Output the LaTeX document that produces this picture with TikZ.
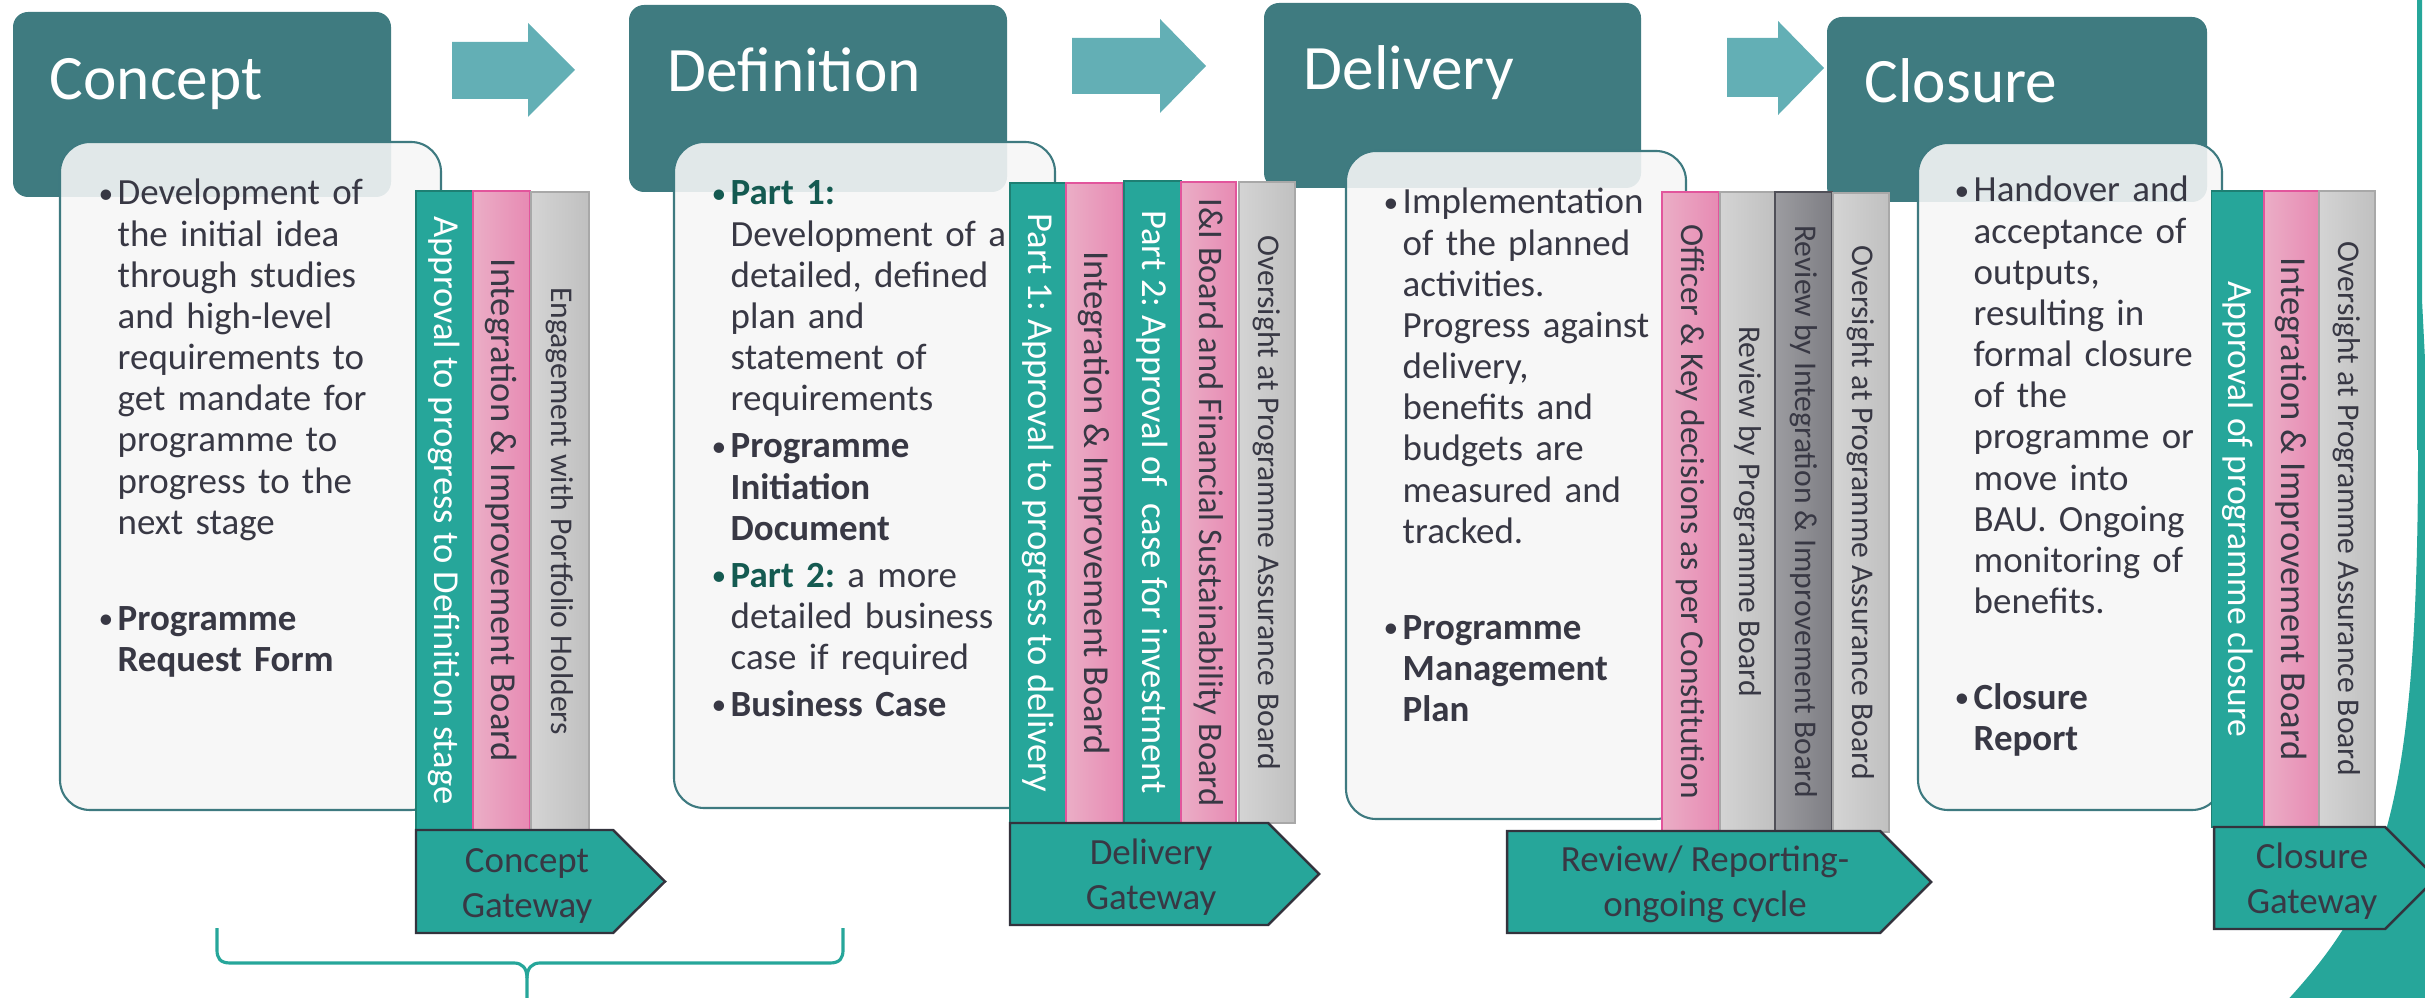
\documentclass[tikz,border=0pt]{standalone}
\usepackage{fontspec}
\setmainfont{Carlito}

\definecolor{headteal}{HTML}{3F7B80}
\definecolor{arrowteal}{HTML}{63AFB5}
\definecolor{boxgrey}{HTML}{F6F6F6}
\definecolor{boxline}{HTML}{3E7A80}
\definecolor{gwteal}{HTML}{26A69A}
\definecolor{gwtealline}{HTML}{1E7F73}
\definecolor{pinktop}{HTML}{EBAEC6}
\definecolor{pinkbot}{HTML}{E78AB3}
\definecolor{pinkline}{HTML}{E2559C}
\definecolor{greytop}{HTML}{D4D4D4}
\definecolor{greybot}{HTML}{C0C0C0}
\definecolor{greyline}{HTML}{A8A8A8}
\definecolor{darktop}{HTML}{9C9CA0}
\definecolor{darkbot}{HTML}{7E7E84}
\definecolor{darkline}{HTML}{505058}
\definecolor{textdark}{HTML}{383844}
\definecolor{parttext}{HTML}{145A51}
\definecolor{gateline}{HTML}{33333D}

\newcommand\dotmark{\raisebox{0.05em}{\scalebox{0.8}{\textbullet}}}
\newcommand\bitem[2][textdark]{\hangindent=0.19cm\hangafter=1\noindent\makebox[0.19cm][l]{\textcolor{#1}{\dotmark}}#2\par}
\newcommand\blockgap{\vspace{0.49cm}}
\newcommand\parttxt[1]{\textcolor{parttext}{\textbf{#1}}}
\frenchspacing

\begin{document}
\begin{tikzpicture}[x=0.01cm, y=-0.01cm,
  header/.style={fill=headteal, rounded corners=0.15cm},
  infobox/.style={fill=boxgrey, fill opacity=0.89, draw=boxline, line width=0.6pt, rounded corners=0.3cm},
  blockarrow/.style={fill=arrowteal},
  title/.style={anchor=base west, inner sep=0pt, text=white, font=\fontsize{18}{21}\selectfont},
  content/.style={anchor=base west, inner sep=0pt, text width=3.4cm, align=left, text=textdark,
    font=\fontsize{10.5}{11.7}\selectfont, execute at begin node={\setlength{\parskip}{0.06cm}}},
  stack/.style={rotate=-90, inner sep=0pt, line width=0.5pt, font=\fontsize{10.4}{12}\selectfont},
  tealbar/.style={stack, draw=gwtealline, fill=gwteal, text=white},
  pinkbar/.style={stack, draw=pinkline, left color=pinktop, right color=pinkbot, text=textdark},
  greybar/.style={stack, draw=greyline, left color=greytop, right color=greybot, text=textdark, font=\fontsize{9}{11}\selectfont},
  darkbar/.style={stack, draw=darkline, left color=darktop, right color=darkbot, text=textdark, font=\fontsize{9}{11}\selectfont},
  gate/.style={fill=gwteal, draw=gateline, line width=0.7pt},
  gatetext/.style={align=center, inner sep=0pt, text=textdark, font=\fontsize{10.5}{12.8}\selectfont},
  bracket/.style={draw=gwteal, line width=0.9pt}]
  \useasboundingbox (0,0) rectangle (2425,998);

  % teal arc on the right
  \fill[gwteal] (2417,-5) -- (2422,-5) -- (2422,300) -- (2428,420) -- (2428,1005) -- (2283,1005)
    .. controls (2380,900) and (2418,820) .. (2418,450) -- (2417,450) -- cycle;

  % stage headers
  \path[header] (13,12) rectangle (391,197);
  \path[header] (629,5) rectangle (1007,192);
  \path[header] (1264,3) rectangle (1641,188);
  \path[header] (1827,17) rectangle (2207,202);
  \node[title] (tCon) at (49,100) {Concept};
  \node[title] (tDef) at (667,92) {Definition};
  \node[title] (tDel) at (1303,90) {Delivery};
  \node[title] (tClo) at (1864,103) {Closure};

  % arrows between stages
  \fill[blockarrow] (452,42) -- (528,42) -- (528,23) -- (575,70) -- (528,117) -- (528,99) -- (452,99) -- cycle;
  \fill[blockarrow] (1072,38) -- (1160,38) -- (1160,19) -- (1206,66) -- (1160,113) -- (1160,94) -- (1072,94) -- cycle;
  \fill[blockarrow] (1727,38) -- (1778,38) -- (1778,21) -- (1824,68) -- (1778,115) -- (1778,97) -- (1727,97) -- cycle;

  % content boxes
  \path[infobox] (60,142) rectangle (441,810);
  \path[infobox] (674,142) rectangle (1055,808);
  \path[infobox] (1346,151) rectangle (1686,819);
  \path[infobox] (1918,143) rectangle (2222,810);

  \node[content] (xCon) at (98,205) {\bitem{Development of\newline the initial idea\newline through studies\newline and high-level\newline requirements to\newline get mandate for\newline programme to\newline progress to the\newline next stage}\blockgap
    \bitem{\textbf{Programme\newline Request Form}}};
  \node[content] (xDef) at (711,205) {\bitem[parttext]{\parttxt{Part 1:}\newline Development of a\newline detailed, defined\newline plan and\newline statement of\newline requirements}
    \bitem{\textbf{Programme\newline Initiation\newline Document}}
    \bitem[parttext]{\parttxt{Part 2:} a more\newline detailed business\newline case if required}
    \bitem{\textbf{Business Case}}};
  \node[content] (xDel) at (1383,214) {\bitem{Implementation\newline of the planned\newline activities.\newline Progress against\newline delivery,\newline benefits and\newline budgets are\newline measured and\newline tracked.}\blockgap
    \bitem{\textbf{Programme\newline Management\newline Plan}}};
  \node[content] (xClo) at (1954,202) {\bitem{Handover and\newline acceptance of\newline outputs,\newline resulting in\newline formal closure\newline of the\newline programme or\newline move into\newline BAU. Ongoing\newline monitoring of\newline benefits.}\blockgap
    \bitem{\textbf{Closure\newline Report}}};

  % boards
  \node[tealbar, minimum width=6.39cm, minimum height=0.57cm] (cAppr) at (444.5,510.5) {Approval to progress to Definition stage};
  \node[pinkbar, minimum width=6.39cm, minimum height=0.57cm] (cInt) at (501.5,510.5) {Integration \& Improvement Board};
  \node[greybar, minimum width=6.38cm, minimum height=0.58cm] (cEng) at (560,511) {Engagement with Portfolio Holders};

  \node[tealbar, minimum width=6.40cm, minimum height=0.56cm] (dPart1) at (1038,503) {Part 1: Approval to progress to delivery};
  \node[pinkbar, minimum width=6.40cm, minimum height=0.57cm] (dInt) at (1094.5,503) {Integration \& Improvement Board};
  \node[tealbar, minimum width=6.42cm, minimum height=0.57cm] (dPart2) at (1152.5,502) {Part 2: Approval of~ case for investment};
  \node[pinkbar, minimum width=6.41cm, minimum height=0.55cm, font=\fontsize{9.8}{11}\selectfont] (dFin) at (1208.5,502.5) {I\&I Board and Financial Sustainability Board};
  \node[greybar, minimum width=6.41cm, minimum height=0.56cm] (dOver) at (1267,502.5) {Oversight at Programme Assurance Board};

  \node[pinkbar, minimum width=6.39cm, minimum height=0.57cm, font=\fontsize{9.5}{11}\selectfont] (vOff) at (1690.5,511.5) {Officer \& Key decisions as per Constitution};
  \node[greybar, minimum width=6.39cm, minimum height=0.55cm] (vRev) at (1747.5,511.5) {Review by Programme Board};
  \node[darkbar, minimum width=6.39cm, minimum height=0.57cm] (vInt) at (1803.5,511.5) {Review by Integration \& Improvement Board};
  \node[greybar, minimum width=6.39cm, minimum height=0.56cm] (vOver) at (1861,512.5) {Oversight at Programme Assurance Board};

  \node[tealbar, minimum width=6.36cm, minimum height=0.53cm, font=\fontsize{10.1}{12}\selectfont] (zAppr) at (2238,509) {Approval of programme closure};
  \node[pinkbar, minimum width=6.36cm, minimum height=0.55cm] (zInt) at (2291.5,509) {Integration \& Improvement Board};
  \node[greybar, minimum width=6.36cm, minimum height=0.56cm] (zOver) at (2347,509) {Oversight at Programme Assurance Board};

  % gateways
  \path[gate] (416,830) -- (613,830) -- (665,881.5) -- (613,933) -- (416,933) -- cycle;
  \path[gate] (1010,823) -- (1268,823) -- (1319,874) -- (1268,925) -- (1010,925) -- cycle;
  \path[gate] (1507,831) -- (1880,831) -- (1931,882) -- (1880,933) -- (1507,933) -- cycle;
  \path[gate] (2214,827) -- (2385,827) -- (2436,878) -- (2385,929) -- (2214,929) -- cycle;
  \node[gatetext] (gCon) at (527,886) {Concept\\Gateway};
  \node[gatetext] (gDel) at (1151,877) {Delivery\\Gateway};
  \node[gatetext] (gRev) at (1705,884) {Review/ Reporting-\\ongoing cycle};
  \node[gatetext] (gClo) at (2312,881) {Closure\\Gateway};

  % bracket under concept and definition
  \path[bracket] (217,928) -- (217,950) .. controls (217,958) and (220,963) .. (230,963) -- (514,963)
    .. controls (522,963) and (527,968) .. (527,978) -- (527,1002);
  \path[bracket] (843,928) -- (843,950) .. controls (843,958) and (840,963) .. (830,963) -- (540,963)
    .. controls (532,963) and (527,968) .. (527,978);
\end{tikzpicture}
\end{document}
